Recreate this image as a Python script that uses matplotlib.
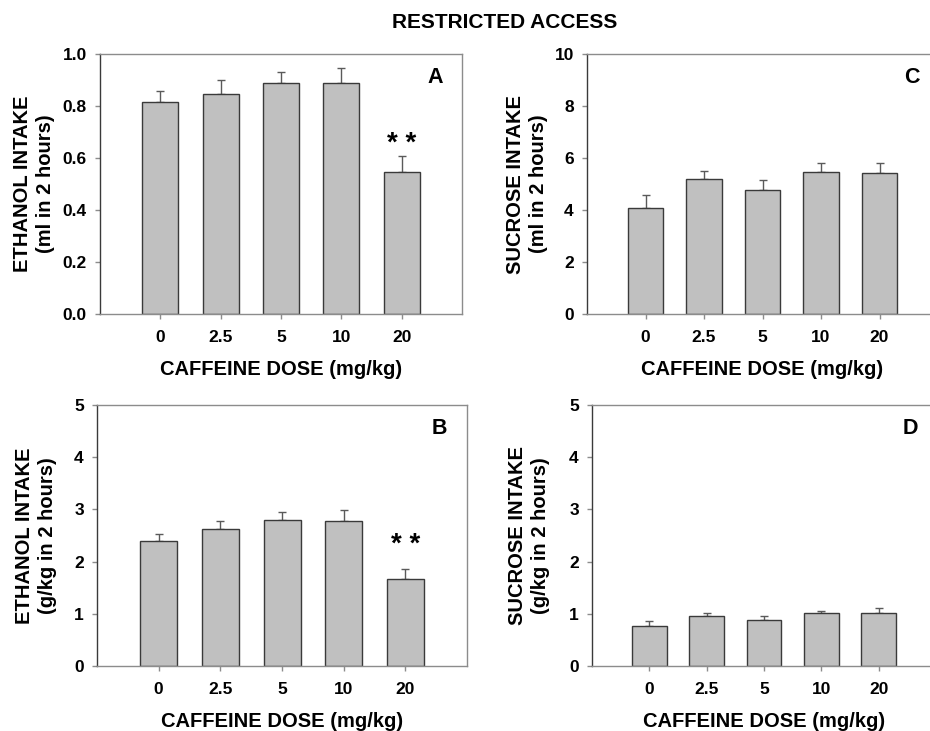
import matplotlib
matplotlib.use('Agg')
import matplotlib.pyplot as plt
import numpy as np

plt.rcParams['font.family'] = ['Liberation Sans', 'DejaVu Sans']
plt.rcParams['font.weight'] = 'bold'

doses = ['0', '2.5', '5', '10', '20']

# panel A - ethanol ml
ethanol_ml = [0.815, 0.847, 0.888, 0.888, 0.548]
ethanol_ml_err = [0.042, 0.053, 0.042, 0.060, 0.058]
# panel B - ethanol g/kg
ethanol_gkg = [2.40, 2.63, 2.80, 2.78, 1.67]
ethanol_gkg_err = [0.13, 0.15, 0.15, 0.21, 0.19]
# panel C - sucrose ml
sucrose_ml = [4.06, 5.18, 4.77, 5.45, 5.41]
sucrose_ml_err = [0.53, 0.33, 0.37, 0.36, 0.40]
# panel D - sucrose g/kg
sucrose_gkg = [0.77, 0.96, 0.89, 1.01, 1.02]
sucrose_gkg_err = [0.10, 0.05, 0.07, 0.05, 0.09]

W, H = 930, 731
fig = plt.figure(figsize=(W / 100, H / 100), dpi=100)


def make_ax(left, right, top, bottom):
    return fig.add_axes([left / W, 1 - bottom / H, (right - left) / W, (bottom - top) / H])


def panel(ax, vals, errs, ymax, step, fmt, ylabel, letter, ylab_x, stars=None):
    x = np.arange(len(vals))
    ax.bar(x, vals, width=0.6, color='#c0c0c0', edgecolor='#3a3a3a', linewidth=1.0, zorder=2)
    ax.errorbar(x, vals, yerr=[np.zeros(len(vals)), errs], fmt='none', ecolor='#5a5a5a',
                elinewidth=1.0, capsize=3, capthick=1.0, zorder=1)
    ax.set_xlim(-1, 5)
    ax.set_ylim(0, ymax)
    ax.set_xticks(x)
    ax.set_xticklabels(doses)
    yt = np.arange(0, ymax + step / 2, step)
    ax.set_yticks(yt)
    ax.set_yticklabels([fmt % v for v in yt])
    for s in ['top', 'right', 'bottom']:
        ax.spines[s].set_color('#8c8c8c')
        ax.spines[s].set_linewidth(1.0)
    ax.spines['left'].set_color('#3a3a3a')
    ax.spines['left'].set_linewidth(1.0)
    ax.tick_params(axis='both', direction='out', length=3.5, width=1.0, color='#8c8c8c',
                   labelsize=12.5, pad=6)
    ax.tick_params(axis='x', pad=8)
    ax.set_xlabel('CAFFEINE DOSE (mg/kg)', fontsize=14.5, fontweight='bold', labelpad=11)
    ax.set_ylabel(ylabel, fontsize=14.5, fontweight='bold', linespacing=1.3)
    ax.yaxis.set_label_coords(ylab_x, 0.5)
    ax.text(4.68, 0.95, letter, transform=ax.get_xaxis_transform(), ha='right', va='top',
            fontsize=15.5, fontweight='bold')
    if stars is not None:
        ax.text(4, stars, '* *', ha='center', va='center', fontsize=20, fontweight='bold')


axA = make_ax(100, 462, 54, 314)
panel(axA, ethanol_ml, ethanol_ml_err, 1.0, 0.2, '%.1f',
      'ETHANOL INTAKE\n(ml in 2 hours)', 'A', -0.124, stars=0.655)

axC = make_ax(587, 938, 54, 314)
panel(axC, sucrose_ml, sucrose_ml_err, 10, 2, '%d',
      'SUCROSE INTAKE\n(ml in 2 hours)', 'C', -0.111)

axB = make_ax(97, 467, 405, 666)
panel(axB, ethanol_gkg, ethanol_gkg_err, 5, 1, '%d',
      'ETHANOL INTAKE\n(g/kg in 2 hours)', 'B', -0.108, stars=2.32)

axD = make_ax(592, 936, 405, 666)
panel(axD, sucrose_gkg, sucrose_gkg_err, 5, 1, '%d',
      'SUCROSE INTAKE\n(g/kg in 2 hours)', 'D', -0.122)

fig.text(505 / W, 1 - 22 / H, 'RESTRICTED ACCESS', ha='center', va='center',
         fontsize=15, fontweight='bold')

fig.savefig('out.png', dpi=100)
